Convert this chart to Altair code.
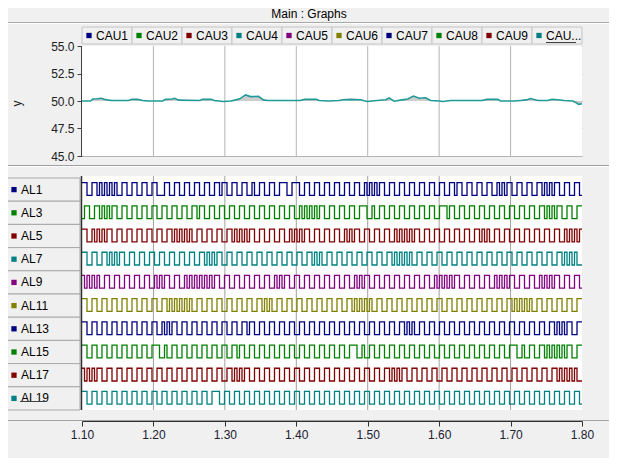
import altair as alt
import pandas as pd

# ---------------- data ----------------
x_ticks = [1.10, 1.20, 1.30, 1.40, 1.50, 1.60, 1.70, 1.80]
grid_times = [1.20, 1.30, 1.40, 1.50, 1.60, 1.70]
y_ticks = [45.0, 47.5, 50.0, 52.5, 55.0]

cau_names = ["CAU1", "CAU2", "CAU3", "CAU4", "CAU5", "CAU6", "CAU7", "CAU8", "CAU9", "CAU..."]
cau_colors = ["#000080", "#008000", "#800000", "#008080", "#800080",
              "#808000", "#000080", "#008000", "#800000", "#008080"]

cau_t = [1.100, 1.112, 1.115, 1.121, 1.127, 1.131, 1.135, 1.142, 1.165, 1.170,
         1.178, 1.185, 1.192, 1.213, 1.217, 1.226, 1.230, 1.235, 1.265, 1.269,
         1.281, 1.285, 1.298, 1.308, 1.314, 1.321, 1.329, 1.336, 1.347, 1.354,
         1.360, 1.405, 1.412, 1.428, 1.432, 1.445, 1.460, 1.465, 1.476, 1.490,
         1.499, 1.513, 1.525, 1.530, 1.537, 1.548, 1.556, 1.564, 1.572, 1.581,
         1.588, 1.600, 1.605, 1.616, 1.660, 1.667, 1.682, 1.686, 1.705, 1.714,
         1.722, 1.728, 1.738, 1.752, 1.758, 1.766, 1.775, 1.787, 1.792, 1.795,
         1.800]
cau_v = [50.00, 50.00, 50.18, 50.20, 50.25, 50.15, 50.10, 50.05, 50.05, 50.15,
         50.15, 50.05, 50.00, 50.00, 50.15, 50.18, 50.25, 50.08, 50.05, 50.15,
         50.15, 50.05, 49.95, 50.00, 50.08, 50.20, 50.55, 50.40, 50.42, 50.10,
         50.05, 50.05, 50.15, 50.15, 50.05, 50.00, 50.05, 50.12, 50.15, 50.12,
         49.95, 50.05, 50.12, 50.28, 49.98, 50.10, 50.18, 50.45, 50.25, 50.30,
         50.05, 50.00, 49.95, 50.05, 50.05, 50.15, 50.15, 50.00, 50.00, 50.05,
         50.10, 50.22, 50.05, 50.05, 50.15, 50.12, 50.05, 50.00, 49.85, 49.70,
         49.75]

row_names = ["AL1", "AL3", "AL5", "AL7", "AL9", "AL11", "AL13", "AL15", "AL17", "AL19"]
row_colors = ["#000080", "#008000", "#800000", "#008080", "#800080",
              "#808000", "#000080", "#008000", "#800000", "#008080"]
# each character = one sample slot across 1.10 .. 1.80 s ("1" = on, "0" = off)
row_bits = [
    "11001101010101001100" "11001100110001100110" "01100110011001101100" "11001100100110011001"
    "11001110011001100110" "01100110011001010101" "10011001100110011001" "10011001101100110011"
    "00110010101100110011" "00110101011001100110",
    "01100110101011001100" "11001100110011001100" "11001101100110011001" "10011001100110011001"
    "10011001010101011001" "10011001100111001001" "10011001100110011001" "10011101100110011001"
    "10011001100110011001" "10011010101100110011",
    "11001010101100110011" "00110011001100110101" "01010011001100110011" "01010101100110011001"
    "10010101011001100110" "01100101011001100110" "01100101010101100110" "01100110011001100110"
    "10100110011001100110" "01100110011001010101",
    "11001100110101011001" "10011001100110011001" "10011001101010110011" "00110011001100110011"
    "00110011001101010011" "00110011001100110011" "00110101010100110011" "00110011001100110011"
    "00110011001100110011" "00110011001101010100",
    "10101010011001100110" "01100110010101100110" "01010101010101100110" "01100110011001100101"
    "01100110011001100110" "01100110010101100110" "01100110011001100110" "01010101011001100110"
    "01100101010110011001" "10010101011001100110",
    "11001100110011001100" "11001100110011010101" "01010011001100110011" "00110011001101010011"
    "00110011001100110011" "00110011010101010011" "00110011001100110011" "00110011001100110011"
    "00110011001101010101" "00110011001100110011",
    "11001100110011001100" "11001100110010101100" "11001100110011001100" "11001101100110011001"
    "10011001100110011001" "10011001100110011001" "10011001101010011001" "10011001100110011001"
    "10011001100110011001" "10011001101010110011",
    "11001100110011001100" "11001100111001001100" "11001100110011001100" "11011001100110011001"
    "10011001100110011001" "10011001110010011001" "10011001100110011001" "10011001100110011001"
    "10011001100111001001" "10011010101010110011",
    "10101011001100110011" "00110011001100110011" "00110011001100110011" "01010110011001100110"
    "01100110011001100110" "01100110011001100110" "01101010110011001100" "11001100110011001100"
    "11001100110011001100" "11001100110101010100",
    "11001100110011001100" "11001100110011001100" "11001100110011100110" "01100110011001100110"
    "01100110011001100110" "01100110011001100110" "01100110011001100110" "01100110011001100110"
    "01100110011001100110" "01100110011001100110",
]

# ---------------- tables ----------------
T0, T1 = 1.10, 1.80
line_df = pd.DataFrame({"t": cau_t, "v": cau_v})
legend_df = pd.DataFrame({"name": cau_names})
rows_df = pd.DataFrame({"row": row_names, "r0": list(range(len(row_names)))})
rows_df["r1"] = rows_df["r0"] + 1
rows_df["rm"] = rows_df["r0"] + 0.5
grid_df = pd.DataFrame({"t": grid_times})

HIGH, LOW = 0.20, 0.75
sig = []
for r, (name, bits) in enumerate(zip(row_names, row_bits)):
    n = len(bits)
    dt = (T1 - T0) / n
    for i, b in enumerate(bits):
        if i == 0 or b != bits[i - 1]:
            sig.append({"row": name, "t": T0 + i * dt, "y": r + (HIGH if b == "1" else LOW)})
    sig.append({"row": name, "t": T1, "y": r + (HIGH if bits[-1] == "1" else LOW)})
sig_df = pd.DataFrame(sig)

# ---------------- geometry ----------------
W, H = 500, 375
TOP_H = 110
ROW_PX = 23.2
ROW_TOP = 132  # px below plot top where first row starts
FONT = "Liberation Sans"

x_scale = alt.Scale(domain=[T0, T1], nice=False, zero=False)
top_scale = alt.Scale(domain=[55 - 10 * H / TOP_H, 55], nice=False, zero=False)
row_d0 = -ROW_TOP / ROW_PX
row_scale = alt.Scale(domain=[row_d0, row_d0 + H / ROW_PX], reverse=True, nice=False, zero=False)
band = alt.Scale(type="band", domain=cau_names, paddingInner=0, paddingOuter=0)
row_color = alt.Scale(domain=row_names, range=row_colors)
cau_color = alt.Scale(domain=cau_names, range=cau_colors)

one = alt.Data(values=[{}])

layers = []

# header
layers.append(alt.Chart(one).mark_text(text="Main : Graphs", font=FONT, fontSize=12, color="#000000",
                                       baseline="middle", align="center")
              .encode(x=alt.value(227), y=alt.value(-32)))
layers.append(alt.Chart(one).mark_rule(color="#a8a8a8")
              .encode(x=alt.value(-74), x2=alt.value(527), y=alt.value(-23.5)))
layers.append(alt.Chart(one).mark_rule(color="#ffffff")
              .encode(x=alt.value(-74), x2=alt.value(527), y=alt.value(-22.5)))

# legend buttons
layers.append(alt.Chart(legend_df).mark_rect(fill="#f0f0f0", stroke="#c4c4c4", strokeWidth=1)
              .encode(x=alt.X("name:N", scale=band, axis=None), y=alt.value(-19), y2=alt.value(-2)))
layers.append(alt.Chart(legend_df).mark_square(size=28, opacity=1)
              .encode(x=alt.X("name:N", scale=band, axis=None, bandPosition=0), xOffset=alt.value(7),
                      y=alt.value(-10.5),
                      color=alt.Color("name:N", scale=cau_color, legend=None)))
layers.append(alt.Chart(legend_df).mark_text(align="left", baseline="middle", dx=14, font=FONT,
                                             fontSize=12, color="#000000")
              .encode(x=alt.X("name:N", scale=band, axis=None, bandPosition=0), y=alt.value(-10.5),
                      text="name:N"))
layers.append(alt.Chart(one).mark_rule(color="#404040")
              .encode(x=alt.value(464), x2=alt.value(494), y=alt.value(-3.5)))

# top panel
layers.append(alt.Chart(one).mark_rect(fill="#ffffff")
              .encode(x=alt.value(0), x2=alt.value(W), y=alt.value(0), y2=alt.value(TOP_H)))
layers.append(alt.Chart(grid_df).mark_rule(color="#b4b4b4")
              .encode(x=alt.X("t:Q", scale=x_scale, axis=None), y=alt.value(0), y2=alt.value(TOP_H)))
layers.append(alt.Chart(line_df).mark_area(color="#c8c8c8", opacity=0.9)
              .encode(x=alt.X("t:Q", scale=x_scale, axis=None),
                      y=alt.Y("v:Q", scale=top_scale, axis=None), y2=alt.datum(50)))
layers.append(alt.Chart(line_df).mark_line(color="#1f9a96", strokeWidth=1.6)
              .encode(x=alt.X("t:Q", scale=x_scale, axis=None),
                      y=alt.Y("v:Q", scale=top_scale,
                              axis=alt.Axis(orient="left", values=y_ticks, format=".1f", grid=True,
                                            gridColor="#b4b4b4", domain=False, tickSize=5,
                                            tickColor="#404040", labelFont=FONT, labelFontSize=12,
                                            labelColor="#202020", labelPadding=3,
                                            title="y", titleFont=FONT, titleFontSize=12,
                                            titleFontWeight="normal", titleColor="#202020",
                                            titleX=-66, titleY=57, titleAngle=270,
                                            titleAlign="center", titleBaseline="middle"))))
layers.append(alt.Chart(one).mark_rule(color="#404040")
              .encode(x=alt.value(-0.5), y=alt.value(0), y2=alt.value(TOP_H)))

# separator
layers.append(alt.Chart(one).mark_rule(color="#a0a0a0")
              .encode(x=alt.value(-74), x2=alt.value(527), y=alt.value(119.5)))
layers.append(alt.Chart(one).mark_rule(color="#ffffff")
              .encode(x=alt.value(-74), x2=alt.value(527), y=alt.value(120.5)))

# bottom panel
layers.append(alt.Chart(one).mark_rect(fill="#ffffff")
              .encode(x=alt.value(0), x2=alt.value(W), y=alt.value(ROW_TOP - 2),
                      y2=alt.value(ROW_TOP + 10 * ROW_PX)))
layers.append(alt.Chart(grid_df).mark_rule(color="#a0a0a0")
              .encode(x=alt.X("t:Q", scale=x_scale, axis=None), y=alt.value(ROW_TOP - 2),
                      y2=alt.value(ROW_TOP + 10 * ROW_PX)))
layers.append(alt.Chart(rows_df).mark_rect(fill="#f0f0f0", stroke="#a8a8a8", strokeWidth=1)
              .encode(y=alt.Y("r0:Q", scale=row_scale, axis=None), y2="r1:Q",
                      x=alt.value(-79), x2=alt.value(-2)))
layers.append(alt.Chart(rows_df).mark_square(size=28, opacity=1)
              .encode(y=alt.Y("rm:Q", scale=row_scale, axis=None), x=alt.value(-68),
                      color=alt.Color("row:N", scale=row_color, legend=None)))
layers.append(alt.Chart(rows_df).mark_text(align="left", baseline="middle", font=FONT, fontSize=12,
                                           color="#000000")
              .encode(y=alt.Y("rm:Q", scale=row_scale, axis=None), x=alt.value(-61), text="row:N"))
layers.append(alt.Chart(one).mark_rule(color="#404040")
              .encode(x=alt.value(-62), x2=alt.value(-36), y=alt.value(355.5)))
layers.append(alt.Chart(sig_df).mark_line(interpolate="step-after", strokeWidth=1.3)
              .encode(x=alt.X("t:Q", scale=x_scale,
                              axis=alt.Axis(values=x_ticks, format=".2f", grid=False, tickSize=5,
                                            tickColor="#303030", domainColor="#303030",
                                            labelFont=FONT, labelFontSize=12, labelColor="#202030",
                                            labelPadding=3, labelFlush=False, title=None)),
                      y=alt.Y("y:Q", scale=row_scale, axis=None),
                      color=alt.Color("row:N", scale=row_color, legend=None)))
layers.append(alt.Chart(one).mark_rule(color="#303030", strokeWidth=1.5)
              .encode(x=alt.value(-0.5), y=alt.value(ROW_TOP - 2), y2=alt.value(ROW_TOP + 10 * ROW_PX)))

# bottom full-width line
layers.append(alt.Chart(one).mark_rule(color="#a0a0a0")
              .encode(x=alt.value(-74), x2=alt.value(527), y=alt.value(H - 0.5)))

chart = (
    alt.layer(*layers)
    .resolve_scale(x="independent", y="independent", color="independent")
    .properties(width=W, height=H, autosize=alt.AutoSizeParams(type="none"),
                padding={"left": 74, "top": 38, "right": 27, "bottom": 37})
    .configure(background="#f0f0f0")
    .configure_view(stroke=None)
)

chart.save("out.html", embed_options={"renderer": "svg", "actions": False})
